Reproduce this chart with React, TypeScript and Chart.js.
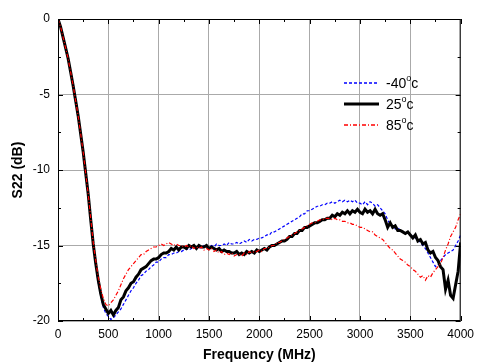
import React, { useEffect, useRef } from "react";
import { Chart, registerables } from "chart.js";

Chart.register(...registerables);

const FREQ_MHZ = [
  0, 25, 50, 75, 100, 125, 150, 175, 200, 225,
  250, 275, 300, 325, 350, 375, 400, 425, 450, 475,
  500, 525, 550, 575, 600, 625, 650, 675, 700, 725,
  750, 775, 800, 825, 850, 875, 900, 925, 950, 975,
  1000, 1025, 1050, 1075, 1100, 1125, 1150, 1175, 1200, 1225,
  1250, 1275, 1300, 1325, 1350, 1375, 1400, 1425, 1450, 1475,
  1500, 1525, 1550, 1575, 1600, 1625, 1650, 1675, 1700, 1725,
  1750, 1775, 1800, 1825, 1850, 1875, 1900, 1925, 1950, 1975,
  2000, 2025, 2050, 2075, 2100, 2125, 2150, 2175, 2200, 2225,
  2250, 2275, 2300, 2325, 2350, 2375, 2400, 2425, 2450, 2475,
  2500, 2525, 2550, 2575, 2600, 2625, 2650, 2675, 2700, 2725,
  2750, 2775, 2800, 2825, 2850, 2875, 2900, 2925, 2950, 2975,
  3000, 3025, 3050, 3075, 3100, 3125, 3150, 3175, 3200, 3225,
  3250, 3275, 3300, 3325, 3350, 3375, 3400, 3425, 3450, 3475,
  3500, 3525, 3550, 3575, 3600, 3625, 3650, 3675, 3700, 3725,
  3750, 3775, 3800, 3825, 3850, 3875, 3900, 3925, 3950, 3975,
  4000,
];

const S22_M40C = [
  0, -0.5, -1.2, -1.9, -2.6, -3.5, -4.4, -5.4, -6.4, -7.6,
  -8.8, -10.2, -11.6, -13.3, -14.9, -16.3, -17.5, -18.4, -19.1, -19.5,
  -19.7, -19.9, -19.8, -19.6, -19.4, -19.2, -18.9, -18.6, -18.3, -18.0,
  -17.8, -17.5, -17.3, -17.0, -16.9, -16.7, -16.6, -16.4, -16.3, -16.1,
  -16.1, -15.9, -15.8, -15.8, -15.6, -15.6, -15.5, -15.5, -15.4, -15.4,
  -15.3, -15.2, -15.3, -15.2, -15.1, -15.2, -15.1, -15.2, -15.0, -15.1,
  -15.1, -15.0, -15.1, -14.9, -15.0, -15.0, -14.9, -15.0, -14.8, -14.9,
  -14.9, -14.8, -14.9, -14.8, -14.7, -14.8, -14.6, -14.7, -14.6, -14.6,
  -14.5, -14.5, -14.4, -14.3, -14.3, -14.1, -14.1, -14.0, -13.9, -13.8,
  -13.7, -13.6, -13.5, -13.4, -13.3, -13.2, -13.1, -12.9, -12.9, -12.7,
  -12.7, -12.6, -12.5, -12.4, -12.4, -12.3, -12.3, -12.2, -12.2, -12.1,
  -12.2, -12.1, -12.0, -12.1, -12.0, -12.1, -12.0, -12.1, -12.0, -12.2,
  -12.2, -12.3, -12.1, -12.3, -12.1, -12.2, -12.4, -12.3, -12.5, -12.7,
  -12.9, -13.3, -13.6, -13.7, -13.9, -13.8, -14.0, -14.1, -14.2, -14.1,
  -14.3, -14.4, -14.5, -14.6, -14.8, -15.0, -15.2, -15.5, -15.8, -16.1,
  -16.4, -16.3, -16.0, -15.8, -15.6, -15.5, -15.4, -15.3, -15.0, -14.7,
  -14.3,
];

const S22_25C = [
  0, -0.5, -1.2, -1.9, -2.6, -3.5, -4.4, -5.4, -6.4, -7.6,
  -8.8, -10.2, -11.6, -13.3, -14.9, -16.2, -17.3, -18.2, -18.9, -19.2,
  -19.5, -19.3, -19.6, -19.3, -19.1, -18.6, -18.4, -18.0, -17.8, -17.5,
  -17.4, -17.1, -16.9, -16.6, -16.5, -16.4, -16.2, -16.0, -15.9, -15.9,
  -15.8, -15.6, -15.5, -15.5, -15.4, -15.2, -15.3, -15.1, -15.3, -15.1,
  -15.1, -15.2, -15.0, -15.1, -15.0, -15.2, -15.0, -15.1, -15.1, -15.0,
  -15.2, -15.1, -15.2, -15.3, -15.2, -15.4, -15.3, -15.4, -15.4, -15.5,
  -15.5, -15.4, -15.6, -15.5, -15.6, -15.4, -15.5, -15.4, -15.5, -15.3,
  -15.4, -15.3, -15.2, -15.3, -15.1, -15.0, -15.0, -14.9, -14.8, -14.7,
  -14.7, -14.6, -14.4, -14.4, -14.2, -14.2, -14.0, -14.0, -13.8, -13.8,
  -13.7, -13.6, -13.5, -13.5, -13.4, -13.3, -13.3, -13.2, -13.2, -13.0,
  -13.1, -12.9, -13.0, -12.8, -12.9, -12.7, -12.9, -12.7, -12.8, -12.6,
  -12.8, -12.9, -12.6, -12.8, -12.7, -12.9, -12.6, -12.9, -13.0, -12.9,
  -13.3, -13.8, -13.5, -13.8, -13.7, -14.0, -14.0, -14.1, -14.2, -14.1,
  -14.3, -14.5, -14.3, -14.7, -14.6, -14.9, -14.8, -15.3, -15.5, -15.4,
  -15.8, -16.0, -16.4, -16.6, -17.9, -17.3, -18.3, -18.5, -17.6, -16.7,
  -14.8,
];

const S22_85C = [
  0, -0.5, -1.2, -1.9, -2.6, -3.5, -4.4, -5.4, -6.4, -7.6,
  -8.8, -10.2, -11.6, -13.2, -14.8, -16.0, -17.1, -17.9, -18.5, -18.9,
  -19.0, -18.8, -18.6, -18.3, -18.0, -17.6, -17.2, -16.9, -16.6, -16.4,
  -16.2, -16.0, -15.8, -15.6, -15.6, -15.4, -15.3, -15.2, -15.1, -15.1,
  -15.0, -14.9, -15.0, -14.9, -14.8, -14.9, -15.0, -14.9, -15.0, -15.0,
  -15.1, -15.0, -15.1, -15.0, -15.2, -15.1, -15.2, -15.1, -15.3, -15.2,
  -15.3, -15.2, -15.4, -15.3, -15.5, -15.4, -15.6, -15.5, -15.6, -15.5,
  -15.7, -15.6, -15.6, -15.7, -15.5, -15.6, -15.4, -15.5, -15.4, -15.4,
  -15.3, -15.4, -15.2, -15.2, -15.1, -15.0, -15.0, -14.8, -14.8, -14.7,
  -14.6, -14.5, -14.4, -14.3, -14.2, -14.1, -14.0, -13.9, -13.8, -13.7,
  -13.6, -13.5, -13.5, -13.4, -13.3, -13.3, -13.2, -13.2, -13.2, -13.3,
  -13.2, -13.3, -13.3, -13.4, -13.4, -13.5, -13.5, -13.6, -13.6, -13.7,
  -13.8, -13.8, -13.9, -14.0, -14.1, -14.1, -14.3, -14.4, -14.5, -14.6,
  -14.8, -15.0, -15.2, -15.3, -15.5, -15.7, -15.9, -16.0, -16.1, -16.3,
  -16.4, -16.6, -16.7, -16.9, -17.1, -17.0, -17.3, -17.0, -17.1, -16.8,
  -16.6, -16.4, -16.2, -15.8, -15.3, -14.9, -14.4, -14.1, -13.8, -13.3,
  -12.9,
];

const SERIES_LABELS = ["-40", "25", "85"];
const SERIES_COLORS = ["#0000ff", "#000000", "#ff0000"];
const X_TICKS = [0, 500, 1000, 1500, 2000, 2500, 3000, 3500, 4000];
const Y_TICKS = [0, -5, -10, -15, -20];
const X_TITLE = "Frequency (MHz)";
const Y_TITLE = "S22 (dB)";

const FONT = "'Liberation Sans', Arial, sans-serif";

const framePlugin = {
  id: "frameTicks",
  afterDatasetsDraw(chart: any) {
    const { ctx, chartArea: a, scales } = chart;
    const xs = scales.x;
    const ys = scales.y;
    ctx.save();
    ctx.strokeStyle = "#000";
    ctx.lineWidth = 1;
    ctx.strokeRect(a.left + 0.5, a.top + 0.5, a.right - a.left - 1, a.bottom - a.top - 1);
    ctx.beginPath();
    for (let i = 0; i < X_TICKS.length; i++) {
      const v = X_TICKS[i];
      const px = Math.round(xs.getPixelForValue(v)) + 0.5;
      ctx.moveTo(px, a.top);
      ctx.lineTo(px, a.top + 5);
      ctx.moveTo(px, a.bottom);
      ctx.lineTo(px, a.bottom - 5);
      if (i < X_TICKS.length - 1) {
        const m = Math.round(xs.getPixelForValue((v + X_TICKS[i + 1]) / 2)) + 0.5;
        ctx.moveTo(m, a.top);
        ctx.lineTo(m, a.top + 3);
        ctx.moveTo(m, a.bottom);
        ctx.lineTo(m, a.bottom - 3);
      }
    }
    for (let i = 0; i < Y_TICKS.length; i++) {
      const v = Y_TICKS[i];
      const py = Math.round(ys.getPixelForValue(v)) + 0.5;
      ctx.moveTo(a.left, py);
      ctx.lineTo(a.left + 5, py);
      ctx.moveTo(a.right, py);
      ctx.lineTo(a.right - 5, py);
      if (i < Y_TICKS.length - 1) {
        const m = Math.round(ys.getPixelForValue((v + Y_TICKS[i + 1]) / 2)) + 0.5;
        ctx.moveTo(a.left, m);
        ctx.lineTo(a.left + 3, m);
        ctx.moveTo(a.right, m);
        ctx.lineTo(a.right - 3, m);
      }
    }
    ctx.stroke();

    // axis titles
    ctx.fillStyle = "#000";
    ctx.font = `bold 14px ${FONT}`;
    ctx.textAlign = "center";
    ctx.textBaseline = "middle";
    ctx.fillText(X_TITLE, (a.left + a.right) / 2, 355);
    ctx.save();
    ctx.translate(18, (a.top + a.bottom) / 2);
    ctx.rotate(-Math.PI / 2);
    ctx.fillText(Y_TITLE, 0, 0);
    ctx.restore();

    // legend
    const rows = [83, 104, 125];
    const widths = [1.5, 3, 1.5];
    const dashes = [[3, 2], [], [4, 2, 1, 2]];
    for (let i = 0; i < SERIES_LABELS.length; i++) {
      const y = rows[i];
      ctx.save();
      ctx.strokeStyle = SERIES_COLORS[i];
      ctx.lineWidth = widths[i];
      ctx.setLineDash(dashes[i]);
      ctx.beginPath();
      ctx.moveTo(344, y);
      ctx.lineTo(379, y);
      ctx.stroke();
      ctx.restore();
      ctx.fillStyle = "#000";
      ctx.textAlign = "left";
      ctx.textBaseline = "middle";
      ctx.font = `14px ${FONT}`;
      const label = SERIES_LABELS[i];
      let x = 386;
      ctx.fillText(label, x, y + 1);
      x += ctx.measureText(label).width;
      ctx.font = `9px ${FONT}`;
      ctx.fillText("o", x, y - 4);
      x += ctx.measureText("o").width;
      ctx.font = `14px ${FONT}`;
      ctx.fillText("c", x, y + 1);
    }
    ctx.restore();
  },
};

export default function App() {
  const ref = useRef<HTMLCanvasElement>(null);
  useEffect(() => {
    if (!ref.current) return;
    const mk = (ys: number[]) => FREQ_MHZ.map((f, i) => ({ x: f, y: ys[i] }));
    const chart = new Chart(ref.current, {
      type: "line",
      data: {
        datasets: [
          {
            label: SERIES_LABELS[0],
            data: mk(S22_M40C),
            borderColor: SERIES_COLORS[0],
            borderWidth: 1.2,
            borderDash: [3, 2],
            pointRadius: 0,
            tension: 0,
            order: 3,
          },
          {
            label: SERIES_LABELS[1],
            data: mk(S22_25C),
            borderColor: SERIES_COLORS[1],
            borderWidth: 3,
            pointRadius: 0,
            tension: 0,
            order: 2,
          },
          {
            label: SERIES_LABELS[2],
            data: mk(S22_85C),
            borderColor: SERIES_COLORS[2],
            borderWidth: 1.2,
            borderDash: [4, 2, 1, 2],
            pointRadius: 0,
            tension: 0,
            order: 1,
          },
        ],
      },
      options: {
        animation: false,
        responsive: true,
        maintainAspectRatio: false,
        layout: { padding: { top: 19, right: 16, left: 0, bottom: 0 } },
        plugins: { legend: { display: false }, tooltip: { enabled: false } },
        scales: {
          x: {
            type: "linear",
            min: 0,
            max: 4000,
            afterBuildTicks: (s: any) => {
              s.ticks = X_TICKS.map((v) => ({ value: v }));
            },
            afterFit: (s: any) => {
              s.height = 42;
            },
            grid: { color: "#aaaaaa", lineWidth: 1, drawTicks: false },
            border: { display: false },
            ticks: {
              padding: 6,
              color: "#000",
              font: { family: FONT, size: 12 },
              maxRotation: 0,
              callback: (v: any) => String(v),
            },
          },
          y: {
            type: "linear",
            min: -20,
            max: 0,
            afterBuildTicks: (s: any) => {
              s.ticks = Y_TICKS.map((v) => ({ value: v }));
            },
            afterFit: (s: any) => {
              s.width = 58;
            },
            grid: { color: "#aaaaaa", lineWidth: 1, drawTicks: false },
            border: { display: false },
            ticks: {
              padding: 8,
              color: "#000",
              font: { family: FONT, size: 12 },
              callback: (v: any) => String(v),
            },
          },
        },
      },
      plugins: [framePlugin],
    });
    return () => chart.destroy();
  }, []);
  return (
    <div style={{ position: "fixed", left: 0, top: 0, width: 480, height: 363, background: "#fff" }}>
      <canvas ref={ref} />
    </div>
  );
}
